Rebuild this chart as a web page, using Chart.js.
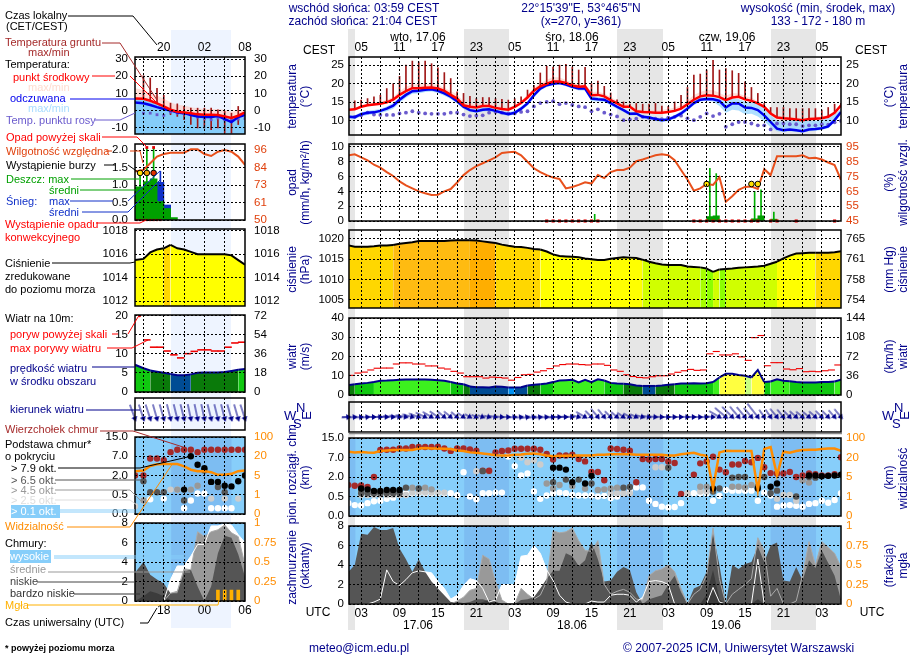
<!DOCTYPE html>
<html lang="pl">
<head>
<meta charset="utf-8">
<title>Meteogram</title>
<script src="https://cdn.jsdelivr.net/npm/chart.js@4/dist/chart.umd.min.js"></script>
<style>
  html, body { margin: 0; padding: 0; background: #fff; }
  #page { position: relative; width: 910px; height: 660px; overflow: hidden; font-family: "Liberation Sans", Arial, sans-serif; }
  #page canvas { position: absolute; z-index: 1; }
  #page svg { position: absolute; left: 0; top: 0; z-index: 2; }
  .t { position: absolute; z-index: 3; white-space: nowrap; font-size: 11px; line-height: 13px; }
  .band { position: absolute; z-index: 0; }
</style>
</head>
<body>
<div id="page"></div>
<script>
const _ = null;

// ---- main panel, hourly, 1..78 h after 17.06 00 UTC ----
const hours = Array.from({ length: 78 }, (v, i) => i + 1);
const tempMid = [13,13.1,13.8,14.2,14.4,14.6,15,15.7,17,18,
  18.8,18.8,18.9,19,18.7,18.1,17,16,14.2,13.8,
  13.6,14,14,13.5,13.2,13,13.8,14.8,16.3,18.1,
  19.3,20,20.6,20.6,20.2,19.5,19.2,19.3,16.9,17,
  16.6,15.6,14.7,13.8,13.8,12.6,12.4,12.3,12.2,12.2,
  12.4,12.7,13.3,14.5,15.7,16.6,16.9,16.8,16.4,15.6,
  16.3,16.5,15.8,15.4,14.7,13.8,12,10.9,10.7,10.6,
  10.4,10.2,10.5,10.6,10.7,11.1,12.2,14.2];
const tempMax = [13.4,13.5,14.2,14.6,15,15.2,15.6,16.4,18,19.2,
  19.8,19.9,20,19.9,19.7,18.9,18,17.2,15.2,14.6,
  14.5,14.9,14.9,14.2,14,13.6,14.3,15.4,17.1,18.9,
  20.2,21,21.8,21.7,21,20.3,20,20,17.8,17.9,
  17.4,16.4,15.4,14.5,14.4,13.3,13,13,12.9,12.9,
  13.2,13.6,14.2,15.5,17,17.8,18.3,18.3,17.5,16.8,
  17.5,17.4,16.7,16.2,15.3,14.3,12.5,11.4,11.2,11.1,
  11,10.7,11,11.1,11.2,11.6,12.6,14.6];
const feelTemp = [11.1,11,11.8,12.2,12.3,12.7,13.3,14.1,15.7,17,
  18,18.1,18.4,18.5,18.1,17.4,16.5,15.3,13.8,12.9,
  12.6,13,13.1,12.7,12.2,11.8,12.2,13.3,14.7,16.9,
  18.7,19.6,20,20.2,19.8,19.2,18.7,18.7,16,15.8,
  15.7,14.8,13.8,12.9,11.9,12,11.1,10.9,10.5,10.2,
  10.4,11.1,12,13.3,14.8,15.7,15.9,15.8,15.4,13.6,
  14.7,14.7,13.6,13.5,12.9,11.5,9.7,7.9,7.5,7.7,
  7.5,7.2,7.7,7.8,8,8.5,10.2,12.4];
const feelMax = [11.6,11.5,12.3,12.7,12.9,13.2,13.9,14.8,16.4,17.6,
  18.5,18.6,18.9,19,18.6,17.9,17,15.8,14.2,13.4,
  13.1,13.6,13.7,13.2,12.7,12.3,12.7,13.8,15.3,17.5,
  19.1,20,20.3,20.5,20.2,19.5,19.1,19.1,16.6,16.4,
  16.2,15.3,14.2,13.3,12.4,12.4,11.6,11.4,11,10.7,
  10.9,11.6,12.6,14,15.4,16.3,16.5,16.4,16.1,15.2,
  16,15.9,15.2,15,14.6,13.4,11.5,10,9.8,10.1,
  10,9.9,10,10,10.3,10.8,11.7,13.2];
const feelMin = [10.6,10.5,11.2,11.6,11.8,12.1,12.6,13.3,14.9,16.2,
  17.3,17.4,17.8,17.9,17.5,16.8,15.9,14.7,13.2,12.4,
  12.1,12.5,12.6,12.2,11.7,11.3,11.7,12.8,14.1,16.2,
  18.2,19.1,19.6,19.9,19.3,18.7,18.2,18.2,15.3,15.2,
  15.1,14.2,13.2,12.4,11.4,11.5,10.6,10.4,10,9.7,
  9.9,10.6,11.4,12.7,14.2,15.2,15.4,15.2,14,12.2,
  13,12.8,11.8,11.9,11.2,9.9,8.3,7.2,7,7.2,
  7,6.8,7.2,7.3,7.6,8,9.6,11.9];
const dewPoint = [_,11.1,11.5,12.2,11.7,11.6,11.6,11.6,12,12.2,
  12.6,12.2,12,11.9,11.9,11.9,12.2,12.2,11.7,11.3,
  11.4,11.5,12.2,12.4,12.2,12,12,12.4,12.6,13.9,
  14.8,15.1,15.3,14.5,14.8,14.3,13.9,13.7,12.6,13.1,
  12.2,11.7,11.2,10.2,10.4,10.6,11.1,10.8,10.6,10.5,
  10.9,11.1,11.4,10.7,10.2,11.1,12,11.3,11.9,8.4,
  9.1,9.7,9.7,9.3,8.8,8.8,7.7,9.3,9.3,9.1,
  9.1,8.6,8.8,8.8,9.1,9,9.6,10];
const groundMax = [_,15.4,15.6,16,16.5,16.9,18.7,20,22,25,
  26.1,25.9,26.1,25.4,24.3,23,21.4,17.8,17.4,16.6,
  16,16.3,16.3,16,15.8,15.6,16,16.5,18.3,19.6,
  22.9,24.7,24.5,25,25.2,24.5,23.7,24.4,20,20.7,
  19.3,17.5,15.7,15.1,14.5,14.7,14.5,14.5,14.7,14,
  13.9,15.1,16.9,19,22.3,22.6,23.7,26.3,23.7,24.1,
  23.5,22.8,20.5,19,17.4,14.7,13.6,13.6,13.6,13.3,
  13.3,13.3,13.3,13.3,12.9,13.6,14.5,14.7];
const humidity = [89.4,90,88,86,83,81,78,75.4,71.7,69,
  67,65,63.7,62.6,62.8,65,66.6,71,76,79.4,
  82,84,86,88,91,91.4,91.7,89.4,85,80.6,
  78,76,74.3,73.4,67,68,69.4,71.2,70.3,76,
  74,78,79.4,79.4,81,85.4,86.5,88,89.4,90,
  89.4,86,79.4,73,65.4,67,70,69.4,74.6,58,
  61.7,66,68,68.3,66.6,80,76,88.8,88.8,88.8,
  88.8,89.4,87.4,87.7,86.5,84.5,82.8,72.8];
const rainT = [39.5,57.5,58.5,64.5,65.5,67.5];
const rainMax = [0.9,7.1,6.4,4,4.2,1.2];
const rainMean = [0.05,0.6,0.7,0.3,0.7,0.25];
const convectiveT = [32,33,34,35,36,37,38,39,40,55,56,57,58,59,60,61,62,63,64,65,67,68,71,77];
const stormT = [57,64,65];
const stormLevel = [5,5,5];
const pressure = [1018.4,1018.1,1018.1,1018.1,1018.2,1018.4,1018.4,1018.5,1018.8,1019,
  1019.2,1019.5,1019.5,1019.5,1019.5,1019.5,1019.6,1019.7,1019.7,1019.7,
  1019.6,1019.4,1019.2,1019,1018.6,1018.3,1018.1,1018,1017.8,1017.5,
  1017.4,1016.9,1016.2,1015.8,1015.7,1015.6,1015.5,1015.2,1015,1014.8,
  1014.8,1015.1,1015.3,1015.5,1015.4,1015.3,1014.9,1014.4,1014,1013.7,
  1013.6,1013.6,1013.6,1013.2,1013.1,1013,1012.7,1011.9,1012.5,1012.6,
  1012.7,1012.9,1013,1013.1,1013.2,1013.4,1013.9,1014.4,1015.2,1015.9,
  1016.4,1016.5,1016.6,1016.6,1016.6,1016.6,1016.7,1017];
const windSpeed = [5.1,5.6,6,6.3,6.7,7.4,7.5,7.7,7.9,8,
  8,8,8,7.9,7.7,7.4,6.7,6,5.6,4.4,
  4,4,3.9,4.4,4.3,3.9,3.9,4,4.9,5.3,
  5.6,6,6.7,7.5,7.7,7.9,6.5,7.9,6.7,8.2,
  7.5,6.3,6,5.8,5.6,4.9,4.7,4.7,4.7,4.9,
  5.3,5.6,6,6,6.1,6,6.1,6.7,9.1,11,
  11,10.4,10,9.1,13,6.7,7,8.2,7.4,7.2,
  6.7,6.5,6.5,6.5,6.7,6.8,7,7.9];
const windGust = [10.2,11.4,11.9,13,13.9,14,14,16.1,16.7,16.7,
  16.1,16.1,15.1,15.1,14,13.5,12.3,11.4,9.5,9.5,
  9.5,8.8,9.3,9.1,8.8,7.7,9.1,10.5,10.7,11.9,
  12.6,13.7,15.1,15.8,16.1,16.1,15.8,15.6,16.1,16.1,
  15.4,13,12.3,10.5,9.6,9.1,8.9,9.5,10,10,
  10.9,11.8,12.6,13.3,12.8,13,21.4,22.6,20.8,20.8,
  21.4,19.8,18,29.8,30.9,15.2,16.8,16.8,13.5,13.1,
  13.7,12.1,12.3,12.1,12.6,13,15.6,_];
const windDir = [265,265,265,265,270,270,272,275,278,280,
  285,290,295,300,305,310,310,310,305,300,
  295,290,285,280,275,270,265,262,260,262,
  262,265,265,268,270,272,285,300,315,320,
  320,315,310,305,300,295,285,280,275,272,
  270,270,270,272,270,270,268,275,300,310,
  315,320,320,320,322,325,325,320,320,315,
  312,310,310,312,315,315,318,320];
const visibility = [44,41,43,41,40,47,49,51,51,51,
  51,57,59,57,57,56,55,49,47,41,
  39,36,33,29,28,28,31,32,35,36,
  33,28,25,27,27,28,28,28,28,31,
  31,33,33,33,33,31,31,31,31,31,
  28,28,33,36,39,31,27,2.7,41,48,
  47,47,47,47,2.3,55,63,6.3,44,40,
  47,51,52,52,55,57,57,47];
const cloudTop = [1.38,1.33,1.35,1.23,2,10.1,10.2,10.2,10.7,10.7,
  11.3,11.3,11.3,11.3,11.4,10.7,9.7,10.7,10.7,10.3,
  9.8,3.6,3.6,9.1,9.7,9.9,10.6,10.6,10.6,10.6,
  10.2,8.5,6.5,7.8,7.8,8.1,6.6,6,3.3,3.3,
  1.75,10.7,10.5,10.2,9.8,1.6,6.6,6.5,6.6,6.6,
  6,5.6,.7,_,2.6,5.5,6,7.3,3.9,3.2,
  5.2,5.2,6.1,5.8,6.9,4.5,3,2.9,2.9,3.3,
  2,2.4,2.9,2.7,2.4,2.4,2.7,7.1];
const base79 = [_,_,1.12,1.05,.93,.93,1,1,1,_,
  _,_,_,_,_,_,_,_,_,_,
  _,_,_,_,_,_,_,_,_,_,
  _,_,4.4,4.4,3.9,1.6,_,1.5,2.3,_,
  _,_,_,_,_,_,_,_,_,_,
  _,_,_,_,_,_,_,1.12,_,_,
  _,_,_,_,1.12,_,1.25,1.5,_,_,
  _,_,2.4,2.4,2.2,2.3,2.4,2.6];
const base65 = [_,_,.75,.75,.75,.75,.75,.75,.75,1.18,
  _,1.12,_,_,_,_,_,_,_,_,
  _,3.5,_,_,_,_,_,_,_,_,
  _,_,1.6,_,1.8,_,1.8,_,1.5,_,
  _,_,_,1.18,1.23,_,_,_,_,_,
  4.4,_,_,_,_,_,_,.88,1.12,_,
  1.95,2,2,_,1.25,2,.75,.95,_,_,
  .5,_,2,1.95,_,_,_,_];
const base45 = [_,_,.88,.88,.88,.88,.88,.88,.88,_,
  1.18,_,1.18,1.05,_,_,_,_,_,_,
  _,_,3.5,_,_,_,_,_,_,_,
  _,1.5,1.12,1.38,_,1.3,_,1.12,_,1,
  1.05,1.12,1.18,_,_,_,_,_,_,_,
  _,_,_,_,_,1.25,1.25,_,_,_,
  1.25,1.25,1.2,1.38,_,_,_,_,_,_,
  _,1.75,1.57,_,_,_,_,_];
const base25 = [_,_,.62,.62,.62,.62,.62,.62,.62,.62,
  .8,.8,.8,.8,.8,.8,_,_,_,_,
  3.5,_,_,_,_,_,_,7,5.8,6.3,
  5.2,_,_,_,_,_,_,_,_,_,
  _,.75,.75,.75,.75,_,_,_,4.5,4.5,
  4.4,_,_,.75,_,.88,.88,_,_,_,
  _,_,_,_,_,_,_,.44,.62,.62,
  .39,_,_,_,_,_,_,_];
const base01 = [.33,.28,.27,.33,.38,.39,.44,.47,.62,.75,
  .75,.75,.75,.75,.75,.75,.75,.6,3.2,.5,
  .43,.75,.75,.8,.8,7.4,4.8,2.4,2.9,.88,
  .44,.58,.75,.8,.75,.62,.58,.58,.58,.5,
  .55,.46,.5,.75,.88,1.2,1.2,.39,.31,.24,
  .22,.23,.33,.7,.75,.75,.75,.39,.55,1,
  .95,.95,.95,.95,.39,.8,.58,.24,.27,.28,
  .26,.24,.31,.33,.39,.34,.41,.75];
const cloudHigh = [0,0,0,0,.2,.5,3.5,2.3,1.9,2.5,
  3.2,3.4,3.3,3.2,2.3,1.6,.5,.9,1.9,2.6,
  2.4,1.6,.2,.4,2,2,2,4.9,5,6,
  5.2,3.5,2.4,.9,.2,0,0,0,.3,.2,
  .2,.9,1,1,.9,.2,.7,2.3,2.4,2.3,
  2,0,0,0,0,0,0,1.7,.2,0,
  0,0,0,0,4.6,0,0,0,0,0,
  0,0,0,0,0,0,0,0];
const cloudMid = [0,0,0,0,0,0,0,0,0,0,
  0,0,0,0,0,0,0,.3,.7,1.4,
  1.6,5,4.6,2.3,.4,0,0,1.6,1,.5,
  .9,2.3,7.5,7.3,7.4,7.8,6.5,5.5,5.4,6.5,
  2,1,1.3,1.5,1.2,.5,.4,2.9,3.4,3.6,
  4,3.3,1.6,0,1,1.5,3,7.8,2.6,0,
  1,1.5,2,2.6,6.8,5.5,.8,1.6,0,0,
  .3,3,6.4,4,6.4,5.8,5.2,3.8];
const cloudLow = [3.3,4,7.2,7.1,7.9,7.6,7.6,7.8,5.7,4.6,
  3.3,4.6,3.3,2.3,1.6,.9,.2,.2,.1,.2,
  .5,.5,.3,.2,0,0,0,.4,.5,.7,
  1.6,2.6,3.4,3.4,5.2,4.9,3.9,4.5,6.4,4.6,
  2.3,2.4,3.3,3.8,3.5,1.2,0,.5,.7,.9,
  2,2.9,1.2,0,1.6,1.9,3.3,7.2,4,0,
  4,3.6,4.1,4.3,5.9,4.3,6,6.3,2.4,2.3,
  3.8,2.4,4.5,3.7,5.5,4.2,2.9,.4];
const cloudVeryLow = [0,0,0,0,0,0,0,0,0,0,
  0,0,0,0,0,0,0,0,0,0,
  0,.2,.4,.2,0,0,0,0,0,0,
  0,0,0,0,0,0,0,0,0,0,
  0,0,0,0,0,0,0,0,0,0,
  0,0,0,0,0,0,1,3.5,.5,0,
  0,0,0,0,.5,0,0,0,0,0,
  0,0,0,0,0,0,0,0];

// ---- left (key) panel, hourly, from the panel edge to 30 ----
const lHours = [13.75,15,16,17,18,19,20,21,22,23,24,25,26,27,28,29,30];
const lTemp = [7.1,7,5.8,4.3,2.5,.6,-.6,-1,-1.5,-2.1,-2.3,-2.3,-2.5,-3.3,-4.2,-2.9,-1];
const lFeel = [4.8,4.3,3.3,2.1,1,.2,-1,-1.4,-2.5,-3.3,-3.7,-3.7,-3,-4.8,-6.6,-3.7,-2.5];
const lTempMax = [13,12,10.5,8.8,7,5,3.5,3,2,1.5,1,1,1,.6,-.4,.2,.6];
const lFeelMax = [7,6.5,5,4,2.5,1,0,-.5,-1,-2,-2.2,-2.2,-2,-3.5,-5,-3,-1.5];
const lDew = [_,-1.4,-1.4,-2.3,-2.7,-.8,-1.4,-1.7,-2.3,-3.7,-4.6,-5.2,-4.2,-5.2,-5.5,-4.8,-4.6];
const lGroundMin = [_,7,6,4.5,2.5,-2.3,-3.3,-5.2,-8,-10,-10,-11,-10,-13,-13,-8,_];
const lGroundMax = [_,20.3,19,13,9,4.4,4,2.5,1.5,1.5,1.5,1.5,.6,-.4,-1.4,2.5,_];
const lHumidity = [81.9,83,87.4,91.8,93.5,94.4,94.4,94.4,96.6,96.6,93.5,92.2,95,96.2,95,91.8,86.3];
const lRainT = [13.5,14.5,15.5,16.5,17.5,18.5,19.5];
const lRainMean = [.95,.95,1.1,1.18,.53,.33,.07];
const lSnowMean = [_,_,_,_,1.08,.43,_];
const lRainMaxT = [14.5,15.5,16.5];
const lRainMax = [1.25,2.05,2.05];
const lSnowMaxT = [17.5];
const lSnowMax = [1.4];
const lOverT = [15.5,16.5];
const lOver = [2.08,2.08];
const lStormT = [14.5,15.5,16.5];
const lStormLevel = [1.35,1.35,1.35];
const lConvT = [14,14.5,15,15.5,16,16.5,17,17.5];
const lPressure = [1015.5,1015.6,1016.15,1016.4,1016.5,1016.8,1016.5,1016.4,1016.2,1016,1016,1016,1016,1016,1015.9,1015.5,1015.1];
const lWind = [7.1,6.2,5.6,5.3,5,4.7,4.4,4.4,4.6,5,5.1,5.1,5.1,5.2,5.5,5.8,6];
const lGust = [_,13.6,11.7,11.7,10.7,9.7,8.9,10,10.6,11,11,10.7,10.7,11.7,12.8,13,_];
const lDir = [340,342,342,344,344,346,346,346,348,348,348,346,346,346,344,344,342];
const lTop = [2,2,6.4,6.4,6,8.7,9.7,9.7,9.7,8.7,9.7,9.7,9.7,9.7,9.7,9.7,9.7];
const lBase79 = [_,_,_,_,_,_,_,.9,7,4.8,3.9,1.5,1.5,1.2,1.15,1.55,2];
const lBase65 = [_,1.55,.7,.7,.7,_,_,.35,_,_,3.3,1.5,1.1,.7,_,_,_];
const lBase45 = [_,.35,_,_,_,_,.9,_,.9,1.2,_,_,_,_,_,_,_];
const lBase25 = [.2,_,_,_,_,.9,.9,.9,_,_,_,.4,_,.4,_,.4,_];
const lBase01 = [_,.35,.38,_,.4,_,_,.15,.35,.6,.6,.15,.15,.15,.15,_,_];
const lVisibility = [8.4,8.9,12.4,13.7,13.9,13.9,13.9,12.1,9.5,8.4,8.4,7.6,5.5,5.5,6.3,8.4,8.9];
const lCloudHigh = [0,0,0,0,0,2.2,3.6,3.6,4.6,5.8,5.8,7.7,7.7,7.9,7.8,6.8,6];
const lCloudMid = [0,0,0,0,0,.8,1,3.3,3.2,7.1,6.6,7.1,7.3,7.8,7,6.6,3.7];
const lCloudLow = [2.9,4,2.7,2.2,1.8,.8,.8,3,3.2,1.5,0,1.5,4.9,6.7,6.5,4.8,2.5];
const lCloudVeryLow = [0,.5,1,.8,.5,.1,0,0,0,0,0,0,0,0,0,0,0];
const fogT = [26,27,28,29];
const fogFrac = [.14,.14,.14,.14];

// ticks
const baseStops = [0, 0.5, 2, 7, 15];
const visStops = [0, 1, 5, 20, 100];
const mainBands = [[1, 2.1], [19.1, 26.1], [43, 50.2], [67, 74.1]];
const leftBands = [[19.1, 28]];
const pressRuns = [[1,"#ffd700"],[8,"#ffbb11"],[20,"#ffae00"],[24,"#ffd700"],[31,"#ffff00"],[47,"#d0ff00"],[56,"#a6ff00"],[57,"#8cff00"],[58,"#d0ff00"],[59,"#8cff00"],[60,"#d0ff00"],[68,"#ffff00"],[74,"#ffd700"]];
const lPressRuns = [[13,"#ffff00"],[18,"#ffd700"],[19,"#ffff00"]];

Chart.defaults.font.family = '"Liberation Sans", Arial, sans-serif';
Chart.defaults.font.size = 11;
Chart.defaults.color = "#000";
Chart.defaults.animation = false;

const page = document.getElementById("page");
const NAVY = "#00008b", SKY = "#87cefa", ORANGE = "#ff8c00", RHC = "#e0400c";

const pad2 = (n) => String(n).padStart(2, "0");
const xy = (ts, vals, dx) => vals.map((v, i) => ({ x: ts[i] + (dx || 0), y: v }));
const range = (a, b, s) => { const r = []; for (let v = a; v <= b; v += s) r.push(v); return r; };

// piecewise position on the squeezed height axis
function stepPos(v, stops) {
  if (v == null) return null;
  for (let i = 1; i < stops.length; i++) {
    if (v <= stops[i]) return i - 1 + (v - stops[i - 1]) / (stops[i] - stops[i - 1]);
  }
  return stops.length - 1;
}
const basePos = (v) => stepPos(v, baseStops);
const visPos = (v) => stepPos(v, visStops);

function runColor(runs, t) {
  let c = runs[0][1];
  for (const r of runs) if (t >= r[0]) c = r[1];
  return c;
}
function windColor(v) {
  if (v < 3.95) return "#0090f0";
  if (v < 4.8) return "#004c94";
  if (v < 5.7) return "#0a7a0a";
  if (v < 7) return "#10c810";
  if (v < 9) return "#3cf01e";
  if (v < 9.6) return "#c8ff80";
  if (v < 12) return "#ffff40";
  return "#ffc000";
}

function arrowIcon(len) {
  const s = Math.ceil(len) + 5;
  const c = document.createElement("canvas");
  c.width = c.height = s * 2;
  const g = c.getContext("2d");
  g.strokeStyle = g.fillStyle = NAVY;
  g.lineWidth = 1;
  g.beginPath(); g.moveTo(s, s); g.lineTo(s, s - len); g.stroke();
  g.beginPath(); g.moveTo(s, s + 3); g.lineTo(s - 3, s - 2); g.lineTo(s + 3, s - 2); g.closePath(); g.fill();
  return c;
}

function axisY(a, position) {
  return {
    type: "linear", position, min: a.min, max: a.max,
    afterBuildTicks: (s) => { s.ticks = a.ticks.map((v) => ({ value: v })); },
    afterFit: (s) => { s.width = a.w; },
    grid: a.grid ? { color: "#000", lineWidth: 1, drawTicks: false, z: 1 } : { display: false, drawTicks: false },
    border: { display: false, dash: [2, 2] },
    ticks: { padding: a.pad, color: a.color || "#000", callback: a.fmt || ((v) => v), autoSkip: false, font: { size: 11.5 } },
  };
}

function panel(cfg) {
  const [x0, y0, x1, y1] = cfg.box;
  // margin must stay above half a tick label plus its padding, or the layout squeezes the plot
  const wL = cfg.wL, wR = cfg.wR, pad = 20;
  const topH = pad + (cfg.topFmt ? 20 : 0), botH = pad + (cfg.botFmt ? 20 : 0);
  const canvas = document.createElement("canvas");
  canvas.width = x1 - x0 + wL + wR;
  canvas.height = y1 - y0 + topH + botH;
  canvas.style.left = x0 - wL + "px";
  canvas.style.top = y0 - topH + "px";
  page.appendChild(canvas);

  // the space above and below the plot comes from two label axes, shown or not
  const labelAxis = (position, fmt, h) => ({
    type: "linear", position, min: cfg.xr[0], max: cfg.xr[1], offset: false,
    afterBuildTicks: (s) => { s.ticks = fmt ? cfg.labelT.map((v) => ({ value: v })) : []; },
    afterFit: (s) => { s.height = h; },
    grid: { display: false, drawTicks: false }, border: { display: false },
    ticks: { display: !!fmt, autoSkip: false, maxRotation: 0, padding: 2, callback: fmt || (() => ""), font: { size: 12 } },
  });
  const scales = {
    x: {
      type: "linear", min: cfg.xr[0], max: cfg.xr[1], offset: false,
      afterBuildTicks: (s) => { s.ticks = cfg.gridT.map((v) => ({ value: v })); },
      afterFit: (s) => { s.height = 0; },
      grid: { color: "#000", lineWidth: 1, drawTicks: false, z: 1, offset: false },
      border: { display: false, dash: [2, 2] },
      ticks: { display: false },
    },
    xt: labelAxis("top", cfg.topFmt, topH),
    xb: labelAxis("bottom", cfg.botFmt, botH),
    y: axisY({ ...cfg.yl, grid: true, w: wL, pad: cfg.padL }, "left"),
    y2: axisY({ ...cfg.yr, grid: false, w: wR, pad: cfg.padR }, "right"),
  };

  // later datasets paint over earlier ones
  const n = cfg.datasets.length;
  cfg.datasets.forEach((d, i) => {
    d.order = n - i;
    d.xAxisID = "x";
    if (!d.yAxisID) d.yAxisID = "y";
    if (d.pointRadius === undefined) d.pointRadius = 0;
    if (d.type === "bar") d.grouped = false;
    else if (d.tension === undefined) d.tension = 0;
  });

  new Chart(canvas, {
    type: "line",
    data: { datasets: cfg.datasets },
    options: {
      responsive: false, devicePixelRatio: 1,
      layout: { autoPadding: false, padding: 0 },
      plugins: { legend: { display: false }, tooltip: { enabled: false } },
      scales,
    },
    plugins: [{
      id: "panelDeco",
      beforeDatasetsDraw(chart) {
        const { ctx, chartArea: a, scales: s } = chart;
        ctx.save();
        if (cfg.bg) {
          ctx.fillStyle = cfg.bg;
          ctx.fillRect(a.left, a.top, a.right - a.left, a.bottom - a.top);
          ctx.fillStyle = "rgba(60,80,190,0.13)";
          for (const b of cfg.bands) {
            const l = Math.max(s.x.getPixelForValue(b[0]), a.left), r = Math.min(s.x.getPixelForValue(b[1]), a.right);
            ctx.fillRect(l, a.top, r - l, a.bottom - a.top);
          }
        }
        ctx.restore();
      },
      afterDraw(chart) {
        const { ctx, chartArea: a } = chart;
        ctx.save();
        ctx.strokeStyle = "#000";
        ctx.lineWidth = 1.5;
        ctx.strokeRect(a.left, a.top, a.right - a.left, a.bottom - a.top);
        if (cfg.shadow) {
          ctx.strokeStyle = "#888";
          ctx.beginPath();
          ctx.moveTo(a.left, a.bottom + 1.5);
          ctx.lineTo(a.right + 1, a.bottom + 1.5);
          ctx.stroke();
        }
        ctx.restore();
      },
    }],
  });
}

const fillLine = (data, color, fill) => ({ data, borderWidth: 0, borderColor: "transparent", backgroundColor: color, fill: fill || false });
const strokeLine = (data, color, w, yAxisID) => ({ data, borderColor: color, borderWidth: w, fill: false, yAxisID });
const dots = (data, color, r, extra) => ({ data, showLine: false, pointRadius: r, pointBackgroundColor: color, pointBorderColor: color, pointBorderWidth: 0, ...extra });
const bars = (data, color, w, extra) => ({ type: "bar", data, backgroundColor: color, barThickness: w, borderWidth: 0, ...extra });

const mainGrid = range(3, 75, 3), mainLab = range(3, 75, 6);
const leftGrid = [15, 18, 21, 24, 27], leftLab = [18, 24, 30];
const topFmt = (v) => pad2((v + 2) % 24);
const botFmt = (v) => pad2(v % 24);

const MAIN = { xr: [1.1, 78], gridT: mainGrid, labelT: mainLab, wL: 55, wR: 40, padL: 5, padR: 5, bands: mainBands };
const LEFT = { xr: [13.75, 30], gridT: leftGrid, labelT: leftLab, wL: 40, wR: 40, padL: 7, padR: 9, bands: leftBands };

// ------- temperature
const tempBoth = (min, max, ticks) => ({ yl: { min, max, ticks }, yr: { min, max, ticks } });
panel({
  ...MAIN, box: [349, 57, 841, 135], ...tempBoth(6.2, 27.2, [10, 15, 20, 25]), topFmt,
  datasets: [
    fillLine(xy(hours, tempMax), "rgba(255,205,195,0.65)", "+1"),
    fillLine(xy(hours, tempMid), "transparent"),
    fillLine(xy(hours, feelMax), "rgba(140,210,255,0.7)", "+1"),
    fillLine(xy(hours, feelMin), "transparent"),
    bars(hours.map((t, i) => ({ x: t, y: groundMax[i] == null ? null : [tempMid[i], groundMax[i]] })), "#a01818", 1),
    dots(xy(hours, dewPoint), "#6a5acd", 1.9),
    strokeLine(xy(hours, feelTemp), "#0000ee", 2.5),
    strokeLine(xy(hours, tempMid), "#ff0000", 2.5),
  ],
});
panel({
  ...LEFT, box: [135, 57, 245, 134], ...tempBoth(-13.5, 31.2, [-10, 0, 10, 20, 30]), topFmt,
  datasets: [
    fillLine(xy(lHours, lTempMax), "rgba(255,205,195,0.65)", "+1"),
    fillLine(xy(lHours, lTemp), "transparent"),
    fillLine(xy(lHours, lFeelMax), "rgba(120,200,250,0.9)", "start"),
    bars(lHours.map((t, i) => ({ x: t, y: lGroundMax[i] == null ? null : [lGroundMin[i], lGroundMax[i]] })), "#a01818", 1),
    dots(xy(lHours, lDew), "#6a5acd", 2, { pointStyle: "rect" }),
    strokeLine(xy(lHours, lFeel), "#0000ee", 2.5),
    strokeLine(xy(lHours, lTemp), "#ff0000", 2.5),
  ],
});

// ------- precipitation and humidity
panel({
  ...MAIN, box: [349, 144, 841, 221],
  yl: { min: 0, max: 10.4, ticks: [0, 2, 4, 6, 8, 10] },
  yr: { min: 45, max: 97, ticks: [45, 55, 65, 75, 85, 95], color: RHC },
  datasets: [
    bars(rainT.map((t, i) => ({ x: t, y: [0, rainMax[i]] })), "#00b000", 1),
    bars(xy(rainT, rainMean), "#00a000", 6.4),
    strokeLine(xy(hours, humidity), "#e8501c", 2, "y2"),
    dots(convectiveT.map((t) => ({ x: t, y: 0 })), "#e00000", 2.2, { pointStyle: "rect", clip: false }),
    dots(xy(stormT, stormLevel), "#ffe000", 2.8, { pointBorderColor: "#000", pointBorderWidth: 1 }),
  ],
});
panel({
  ...LEFT, box: [135, 144, 245, 220],
  yl: { min: 0, max: 2.18, ticks: [0, .5, 1, 1.5, 2], fmt: (v) => v.toFixed(1) },
  yr: { min: 50, max: 100.1, ticks: [50, 61.5, 73, 84.5, 96], color: RHC, fmt: (v) => Math.floor(v) },
  datasets: [
    bars(xy(lRainT, lSnowMean), "#1030c8", 7),
    bars(lSnowMaxT.map((t, i) => ({ x: t, y: [0, lSnowMax[i]] })), "#1030c8", 1),
    bars(lRainMaxT.map((t, i) => ({ x: t, y: [0, lRainMax[i]] })), "#00b000", 1),
    bars(xy(lRainT, lRainMean), "#00a000", 7),
    strokeLine(xy(lHours, lHumidity), "#e8501c", 2, "y2"),
    dots(lConvT.map((t) => ({ x: t, y: 0 })), "#e00000", 1.6, { pointStyle: "rect", clip: false }),
    dots(xy(lOverT, lOver), "#e00000", 2, { pointStyle: "rect" }),
    dots(xy(lStormT, lStormLevel), ["#ffe000", "#f0a000", "#e03000"], 2.8, { pointBorderColor: "#000", pointBorderWidth: 1 }),
  ],
});

// ------- pressure
const mmHg = (v) => Math.round(v * 0.75006);
panel({
  ...MAIN, box: [349, 230, 841, 308],
  yl: { min: 1003, max: 1022.2, ticks: [1005, 1010, 1015, 1020] },
  yr: { min: 1003, max: 1022.2, ticks: [1005, 1010, 1015, 1020], fmt: mmHg },
  datasets: [{
    ...strokeLine(xy(hours, pressure), "#000", 2), fill: "start", backgroundColor: "#ffd700",
    segment: { backgroundColor: (c) => runColor(pressRuns, hours[c.p0DataIndex]) },
  }],
});
panel({
  ...LEFT, box: [135, 229, 245, 306],
  yl: { min: 1011.6, max: 1018.14, ticks: [1012, 1014, 1016, 1018] },
  yr: { min: 1011.6, max: 1018.14, ticks: [1012, 1014, 1016, 1018] },
  datasets: [{
    ...strokeLine(xy(lHours, lPressure), "#000", 2), fill: "start", backgroundColor: "#ffff00",
    segment: { backgroundColor: (c) => runColor(lPressRuns, lHours[c.p0DataIndex]) },
  }],
});

// ------- wind
const kmh = (v) => Math.round(v * 3.6);
const gustBars = (ts, vals, w) => bars(ts.map((t, i) => ({ x: t + 0.5, y: vals[i] == null ? null : [vals[i] - 0.12, vals[i] + 0.12] })), "#f00000", w);
panel({
  ...MAIN, box: [349, 318, 841, 395],
  yl: { min: 0, max: 40, ticks: [0, 10, 20, 30, 40] },
  yr: { min: 0, max: 40, ticks: [0, 10, 20, 30, 40], fmt: kmh },
  datasets: [
    {
      ...strokeLine(xy(hours, windSpeed), NAVY, 2), fill: "start", backgroundColor: "#3cf01e",
      segment: { backgroundColor: (c) => windColor((windSpeed[c.p0DataIndex] + windSpeed[c.p1DataIndex]) / 2) },
    },
    gustBars(hours, windGust, 6.4),
  ],
});
panel({
  ...LEFT, box: [135, 315, 245, 392],
  yl: { min: 0, max: 20.1, ticks: [0, 5, 10, 15, 20] },
  yr: { min: 0, max: 20.1, ticks: [0, 5, 10, 15, 20], fmt: kmh },
  datasets: [
    {
      ...strokeLine(xy(lHours, lWind), NAVY, 2), fill: "start", backgroundColor: "#0a7a0a",
      segment: { backgroundColor: (c) => windColor((lWind[c.p0DataIndex] + lWind[c.p1DataIndex]) / 2) },
    },
    gustBars(lHours, lGust, 6.8),
    dots([{ x: 14.4, y: 19.9 }], "#f00000", 1.6),
  ],
});

// ------- wind direction
const noTicks = { min: -1, max: 1, ticks: [], fmt: () => "" };
panel({
  ...MAIN, box: [349, 402, 841, 432], yl: noTicks, yr: noTicks, shadow: true,
  datasets: [{
    data: hours.map((t) => ({ x: t, y: 0 })), showLine: false, clip: false, pointRadius: 4,
    pointStyle: (c) => arrowIcon(windSpeed[c.dataIndex] * 1.3),
    rotation: (c) => windDir[c.dataIndex],
  }],
});
panel({
  ...LEFT, box: [135, 398, 245, 430], yl: noTicks, yr: noTicks,
  datasets: [{
    data: lHours.map((t) => ({ x: t, y: -0.3 })), showLine: false, clip: false, pointRadius: 4,
    pointStyle: () => arrowIcon(15),
    rotation: (c) => lDir[c.dataIndex],
  }],
});

// ------- cloud base, top and visibility
const posAxis = { min: 0, max: 4, ticks: [0, 1, 2, 3, 4] };
const baseAxis = { ...posAxis, fmt: (v) => ["0.0", "0.5", "2.0", "7.0", "15.0"][v] };
const visAxis = { ...posAxis, color: ORANGE, fmt: (v) => visStops[v] };
const baseDots = (ts, vals, color) => dots(xy(ts, vals.map(basePos)), color, 3.2);
panel({
  ...MAIN, box: [349, 438, 841, 516], yl: baseAxis, yr: visAxis, bg: SKY,
  datasets: [
    baseDots(hours, base01, "#ffffff"),
    baseDots(hours, base25, "#cccccc"),
    baseDots(hours, base45, "#999999"),
    baseDots(hours, cloudTop, "#a52a2a"),
    baseDots(hours, base65, "#555555"),
    baseDots(hours, base79, "#000000"),
    strokeLine(xy(hours, visibility.map(visPos)), ORANGE, 2.5, "y2"),
  ],
});
panel({
  ...LEFT, box: [135, 437, 245, 514], yl: baseAxis, yr: visAxis, bg: SKY,
  datasets: [
    baseDots(lHours, lBase01, "#ffffff"),
    baseDots(lHours, lBase25, "#cccccc"),
    baseDots(lHours, lBase45, "#999999"),
    baseDots(lHours, lTop, "#a52a2a"),
    baseDots(lHours, lBase65, "#555555"),
    baseDots(lHours, lBase79, "#000000"),
    strokeLine(xy(lHours, lVisibility.map(visPos)), ORANGE, 2.5, "y2"),
  ],
});

// ------- cloud cover and fog
const cloudLayers = (ts, high, mid, low, vlow) => [
  fillLine(xy(ts, high), "#ffffff", "origin"),
  fillLine(xy(ts, mid), "#999999", "origin"),
  fillLine(xy(ts, low), "#555555", "origin"),
  fillLine(xy(ts, vlow), "#3c3c3c", "origin"),
  strokeLine(xy(ts, mid), "#aaaaaa", 1),
  strokeLine(xy(ts, high), "#ffffff", 1),
];
const octaAxis = { min: 0, max: 8, ticks: [0, 2, 4, 6, 8] };
const fogAxis = { min: 0, max: 8, ticks: [0, 2, 4, 6, 8], color: ORANGE, fmt: (v) => v / 8 };
panel({
  ...MAIN, box: [349, 526, 841, 604], yl: octaAxis, yr: fogAxis, bg: SKY, botFmt,
  datasets: cloudLayers(hours, cloudHigh, cloudMid, cloudLow, cloudVeryLow),
});
panel({
  ...LEFT, box: [135, 523, 245, 601], yl: octaAxis, yr: fogAxis, bg: SKY, botFmt,
  datasets: [
    ...cloudLayers(lHours, lCloudHigh, lCloudMid, lCloudLow, lCloudVeryLow),
    bars(fogT.map((t, i) => ({ x: t, y: fogFrac[i] * 8 })), "#ffb000", 3),
  ],
});

// ------- bands behind the panels, on the same hour scale as the charts
const mainX = (t) => 349 + (t - 1.1) * (841 - 349) / (78 - 1.1);
const leftX = (t) => 135 + (t - 13.75) * (245 - 135) / (30 - 13.75);
function band(l, r, top, bottom, color) {
  const d = document.createElement("div");
  d.className = "band";
  d.style.cssText = `left:${l}px;width:${r - l}px;top:${top}px;height:${bottom - top}px;background:${color}`;
  page.appendChild(d);
}
mainBands.forEach((b) => band(mainX(b[0]), mainX(b[1]), 29, 630, "#e6e6e6"));
leftBands.forEach((b) => band(leftX(b[0]), leftX(b[1]), 30, 628, "#eef4ff"));

// ------- text
function T(text, x, y, color, extra) {
  const d = document.createElement("div");
  d.className = "t";
  d.textContent = text;
  d.style.left = x + "px";
  d.style.top = y - 6.5 + "px";
  d.style.color = color || "#000";
  if (extra) Object.assign(d.style, extra);
  page.appendChild(d);
  return d;
}
const C = (text, x, y, color, extra) => T(text, x, y, color, { transform: "translateX(-50%)", ...extra });
const R = (text, x, y) => T(text, x, y, NAVY, { transform: "translate(-50%,0) rotate(-90deg)", fontSize: "12px" });

const legendText = [
  ["Czas lokalny", 5, 15], ["(CET/CEST)", 6, 26],
  ["Temperatura gruntu", 5, 42, "#a52a2a"], ["max/min", 28, 52, "#a52a2a"],
  ["Temperatura:", 5, 64], ["punkt środkowy", 13, 77, "#f00"], ["max/min", 28, 87, "#ffdcd0"],
  ["odczuwana", 10, 98, "#0000ee"], ["max/min", 28, 108, "#a8dcff"],
  ["Temp. punktu rosy", 6, 120, "#6a5acd"], ["Opad powyżej skali", 6, 137, "#f00"],
  ["Wilgotność względna", 6, 151, RHC], ["Wystąpienie burzy", 6, 165],
  ["Deszcz: max", 6, 179, "#00a000"], ["średni", 49, 190, "#00a000"],
  ["Śnieg:", 6, 201, "#1030c8"], ["max", 49, 201, "#1030c8"], ["średni", 49, 212, "#1030c8"],
  ["Wystąpienie opadu", 5, 224, "#f00"], ["konwekcyjnego", 5, 237, "#f00"],
  ["Ciśnienie", 5, 263], ["zredukowane", 5, 276], ["do poziomu morza", 5, 289],
  ["Wiatr na 10m:", 5, 318], ["poryw powyżej skali", 10, 334, "#f00"], ["max porywy wiatru", 10, 348, "#f00"],
  ["prędkość wiatru", 10, 368, NAVY], ["w środku obszaru", 10, 381, NAVY], ["kierunek wiatru", 10, 409, NAVY],
  ["Wierzchołek chmur", 5, 429, "#a52a2a"], ["Podstawa chmur*", 5, 444], ["o pokryciu", 5, 456],
  ["> 7.9 okt.", 11, 468], ["> 6.5 okt.", 11, 480, "#555"], ["> 4.5 okt.", 11, 490, "#999"], ["> 2.5 okt.", 11, 500, "#ddd"],
  ["Widzialność", 5, 526, ORANGE], ["Chmury:", 5, 543],
  ["średnie", 10, 569, "#999"], ["niskie", 10, 581, "#444"], ["bardzo niskie", 10, 593, "#333"],
  ["Mgła", 5, 605, "#ffb000"], ["Czas uniwersalny (UTC)", 5, 622],
];
legendText.forEach((r) => T(r[0], r[1], r[2], r[3]));
T("> 0.1 okt.", 11, 511, "#fff", { background: SKY, paddingRight: "3px" });
T("wysokie", 10, 556, "#fff", { background: SKY, paddingRight: "2px" });
T("* powyżej poziomu morza", 5, 648, "#000", { fontSize: "9px", fontWeight: "bold" });

const headFont = { fontSize: "12px" };
C("wschód słońca: 03:59 CEST", 364, 8, NAVY, headFont);
C("zachód słońca: 21:04 CEST", 363, 21, NAVY, headFont);
C("22°15'39\"E, 53°46'5\"N", 581, 8, NAVY, headFont);
C("(x=270,  y=361)", 581, 21, NAVY, headFont);
C("wysokość (min, środek, max)", 818, 8, NAVY, headFont);
C("133 - 172 - 180 m", 818, 21, NAVY, headFont);
[["wto, 17.06", 418], ["śro, 18.06", 572], ["czw, 19.06", 727]].forEach((r) => C(r[0], r[1], 37, "#000", headFont));
[["17.06", 418], ["18.06", 572], ["19.06", 726]].forEach((r) => C(r[0], r[1], 625, "#000", headFont));
C("CEST", 319, 50, "#000", headFont); C("CEST", 871, 50, "#000", headFont);
C("UTC", 318, 612, "#000", headFont); C("UTC", 872, 612, "#000", headFont);
T("meteo@icm.edu.pl", 309, 648, NAVY, headFont);
T("© 2007-2025 ICM, Uniwersytet Warszawski", 623, 648, NAVY, headFont);

[
  ["temperatura", 292, 96], ["(°C)", 305, 96], ["(°C)", 889, 96], ["temperatura", 903, 96],
  ["opad", 292, 182], ["(mm/h, kg/m²/h)", 305, 182], ["(%)", 889, 182], ["wilgotność wzgl.", 903, 182],
  ["ciśnienie", 292, 269], ["(hPa)", 305, 269], ["(mm Hg)", 889, 269], ["ciśnienie", 903, 269],
  ["wiatr", 292, 356], ["(m/s)", 305, 356], ["(km/h)", 889, 356], ["wiatr", 903, 356],
  ["pion. rozciągł. chm.", 292, 472], ["(km)", 305, 477], ["(km)", 889, 477], ["widzialność", 903, 478],
  ["zachmurzenie", 292, 567], ["(oktanty)", 305, 565], ["(frakcja)", 889, 565], ["mgła", 903, 565],
].forEach((r) => R(r[0], r[1], r[2]));

[["W", 284, 415], ["N", 296, 407], ["S", 293, 423], ["W", 882, 415], ["N", 894, 407], ["S", 892, 423]]
  .forEach((r) => T(r[0], r[1], r[2], NAVY, { fontSize: "13px" }));
T("E", 302, 415, NAVY, { fontSize: "13px", transform: "rotate(-90deg)" });
T("E", 900, 415, NAVY, { fontSize: "13px", transform: "rotate(-90deg)" });

// ------- leader lines of the key
const leaders = [
  ["#000", "68,16 133,16 157,45"], ["#a52a2a", "102,43 120,43 157,100"],
  ["#f00", "92,76 115,76"], ["#f00", "130,76 157,103"], ["#0000ee", "70,99 135,99"],
  ["#6a5acd", "95,120 120,120 135,113"], ["#f00", "102,137 137,137 146,146"],
  [RHC, "106,151 112,151"], [RHC, "130,151 140,151 143,163"], ["#000", "104,165 115,165"], ["#000", "128,165 138,172"],
  ["#00a000", "71,179 139,179"], ["#00a000", "80,190 137,190"], ["#1030c8", "70,201 113,201"], ["#1030c8", "128,201 160,171"],
  ["#1030c8", "82,212 128,212 160,180"], ["#f00", "96,223 140,223 146,220"], ["#000", "52,263 130,263 135,262"],
  ["#f00", "112,334 118,334"], ["#f00", "128,334 138,317"], ["#f00", "107,348 132,348 148,340"],
  [NAVY, "92,367 135,367"], [NAVY, "86,410 140,410"], ["#a52a2a", "100,431 133,431 183,447"],
  ["#000", "58,468 140,468 192,456"], ["#555", "55,480 143,480"], ["#999", "55,490 130,490 145,505"], ["#ddd", "55,500 130,500 137,505"],
  [SKY, "55,510 135,510"], [SKY, "55,512 135,512"], [ORANGE, "67,527 130,527 173,463"],
  [SKY, "54,556 185,556"], [SKY, "54,558 185,558"], ["#999", "48,572 190,572"], ["#444", "37,582 135,582"], ["#333", "74,594 140,594"],
  ["#ffb000", "27,605 218,605 219,600"], ["#000", "140,623 148,623 157,608"],
  [NAVY, "342,417 349,417"],
];
const NS = "http://www.w3.org/2000/svg";
const svg = document.createElementNS(NS, "svg");
svg.setAttribute("width", 910);
svg.setAttribute("height", 660);
leaders.forEach((l) => {
  const p = document.createElementNS(NS, "polyline");
  p.setAttribute("points", l[1]);
  p.setAttribute("fill", "none");
  p.setAttribute("stroke", l[0]);
  p.setAttribute("stroke-width", 1);
  svg.appendChild(p);
});
page.appendChild(svg);
</script>
</body>
</html>
